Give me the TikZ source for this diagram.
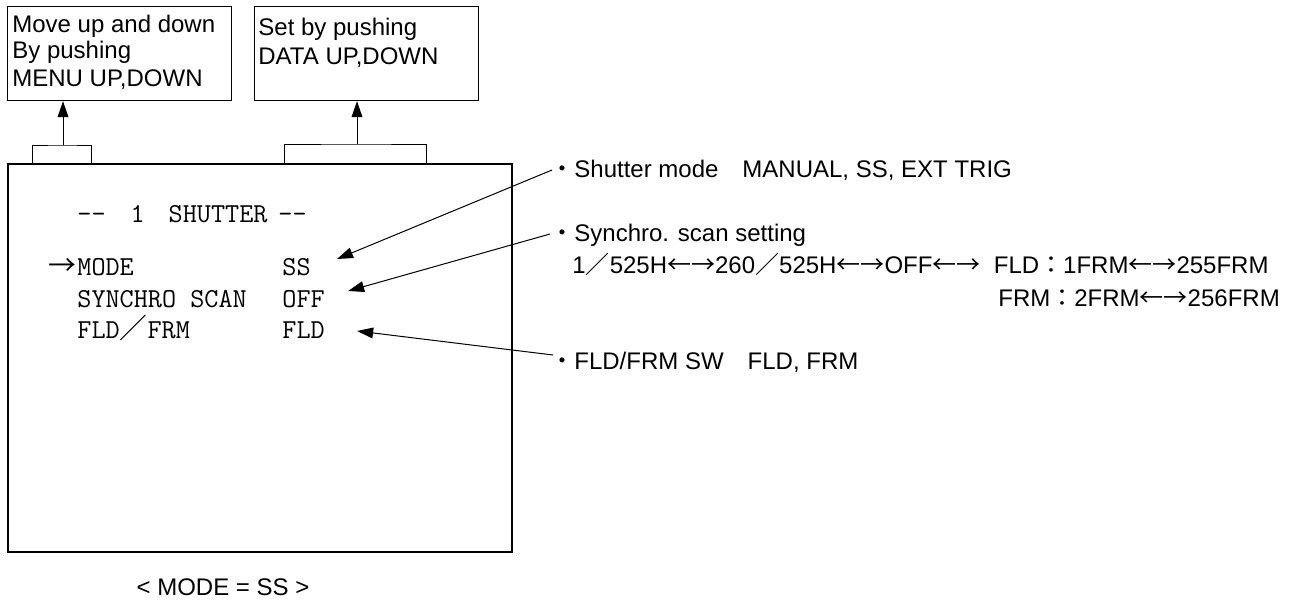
\documentclass[tikz,border=0pt]{standalone}
\usepackage{fontspec}
\setmainfont{Liberation Sans}
\newfontfamily\cjk{Noto Sans CJK JP}
\usetikzlibrary{arrows.meta, positioning}
\tikzset{
	note/.style = {anchor=base west, inner sep=0pt, font=\fontsize{12}{14}\selectfont},
	osd/.style = {anchor=base west, inner sep=0pt, font=\fontsize{13.7}{15}\selectfont\ttfamily},
	keybox/.style = {draw, line width=0.6pt, anchor=north west, inner sep=0pt, minimum width=112pt, minimum height=47pt},
	screen/.style = {draw, line width=1pt, inner sep=0pt, minimum width=252pt, minimum height=194pt},
	pointer/.style = {-{Triangle[length=8pt, width=5.4pt]}, line width=0.5pt},
	tab/.style = {line width=0.5pt},
}
\newcommand\wide[1]{{\cjk\fontsize{13.9}{14}\selectfont #1}}
\newcommand\half[1]{{\cjk #1}}

\begin{document}
\begin{tikzpicture}[x=0.5pt, y=-0.5pt]
	\useasboundingbox (0,0) rectangle (1291,601);
	% key hint boxes
	\node[keybox] (menubox) at (7,6) {};
	\node[keybox] (databox) at (254,6) {};
	\node[note] (menutext) at (12,32) {Move up and down};
	\node[note] (menutext2) at (12,58) {By pushing};
	\node[note] (menutext3) at (12,86) {MENU UP,DOWN};
	\node[note] (datatext) at (258,35) {Set by pushing};
	\node[note] (datatext2) at (258,64) {DATA UP,DOWN};
	% screen
	\node[screen] (scr) at (260,358) {};
	\coordinate (menutab) at (63,145);
	\coordinate (datatab) at (357,144);
	\draw[tab] (scr.north -| 32,0) |- (menutab) -| (scr.north -| 91,0);
	\draw[tab] (scr.north -| 284,0) |- (datatab) -| (scr.north -| 426,0);
	\draw[pointer] (menutab) -- (menutab |- menubox.south);
	\draw[pointer] (datatab) -- (datatab |- databox.south);
	% menu lines
	\node[osd] (title) at (77,222) {-{}-\hspace{12.5pt}1\hspace{12pt}SHUTTER\hspace{5.5pt}-{}-};
	\node[osd, anchor=base east] (cursor) at (77,275) {\wide{→}};
	\node[osd] (modelbl) at (77,275) {MODE};
	\node[osd] (modeval) at (282,275) {SS};
	\node[osd] (synclbl) at (77,307) {SYNCHRO SCAN};
	\node[osd] (syncval) at (282,307) {OFF};
	\node[osd] (fldlbl) at (77,338) {FLD\wide{／}FRM};
	\node[osd] (fldval) at (282,338) {FLD};
	% notes
	\node[note] (shutnote) at (550,177) {\half{・}Shutter mode\quad MANUAL, SS, EXT TRIG};
	\node[note] (syncnote) at (550,241) {\half{・}Synchro. scan setting};
	\node[note] (syncrange) at (572,273) {1\half{／}525H\half{←→}260\half{／}525H\half{←→}OFF\half{←→}\ \ FLD\half{：}1FRM\half{←→}255FRM};
	\node[note] (frmrange) at (998,306) {FRM\half{：}2FRM\half{←→}256FRM};
	\node[note] (fldnote) at (550,369) {\half{・}FLD/FRM SW\quad FLD, FRM};
	\draw[pointer] ([shift={(2,-7)}]shutnote.base west) -- ([shift={(26,-16)}]modeval.base east);
	\draw[pointer] ([shift={(0,-7)}]syncnote.base west) -- ([shift={(23,-16)}]syncval.base east);
	\draw[pointer] ([shift={(3,-14)}]fldnote.base west) -- ([shift={(32,-7)}]fldval.base east);
	\node[note, anchor=base] (caption) at (223,595) {< MODE = SS >};
\end{tikzpicture}
\end{document}
